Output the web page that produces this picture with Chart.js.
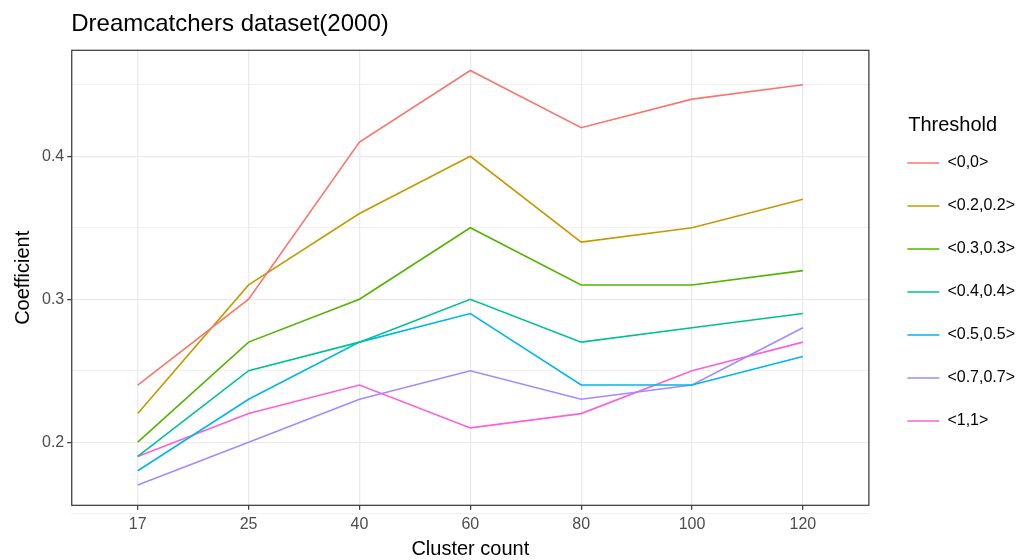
<!DOCTYPE html>
<html>
<head>
<meta charset="utf-8">
<script src="https://cdn.jsdelivr.net/npm/chart.js@4/dist/chart.umd.min.js"></script>
<style>
  html, body { margin: 0; padding: 0; background: #fff; }
  #wrap { width: 1025px; height: 560px; }
</style>
</head>
<body>
<div id="wrap"><canvas id="myChart" width="1025" height="560"></canvas></div>
<script>
// Données
const clusters = ["17", "25", "40", "60", "80", "100", "120"];
const seuils = ["<0,0>", "<0.2,0.2>", "<0.3,0.3>", "<0.4,0.4>", "<0.5,0.5>", "<0.7,0.7>", "<1,1>"];
const couleurs = ["#F8766D", "#C49A00", "#53B400", "#00C094", "#00B6EB", "#A58AFF", "#FB61D7"];

const s00 = [0.24, 0.30, 0.41, 0.46, 0.42, 0.44, 0.45];
const s02 = [0.22, 0.31, 0.36, 0.40, 0.34, 0.35, 0.37];
const s03 = [0.20, 0.27, 0.30, 0.35, 0.31, 0.31, 0.32];
const s04 = [0.19, 0.25, 0.27, 0.30, 0.27, 0.28, 0.29];
const s05 = [0.18, 0.23, 0.27, 0.29, 0.24, 0.24, 0.26];
const s07 = [0.17, 0.20, 0.23, 0.25, 0.23, 0.24, 0.28];
const s11 = [0.19, 0.22, 0.24, 0.21, 0.22, 0.25, 0.27];
const series = [s00, s02, s03, s04, s05, s07, s11];

const yTicks = [0.2, 0.3, 0.4];
const yMinor = [0.15, 0.25, 0.35, 0.45];

const police = "Liberation Sans, Arial, sans-serif";

function isMajor(v) {
    return yTicks.some(function (t) { return Math.abs(t - v) < 1e-6; });
}

// Cadre du panneau (style ggplot)
const cadre = {
    id: "cadre",
    afterDraw: function (chart) {
        const a = chart.chartArea;
        const ctx = chart.ctx;
        ctx.save();
        ctx.strokeStyle = "#333333";
        ctx.lineWidth = 1.2;
        ctx.strokeRect(a.left + 0.5, a.top + 0.5, a.right - a.left - 1, a.bottom - a.top - 1);
        ctx.restore();
    }
};

const ctx = document.getElementById("myChart").getContext("2d");

new Chart(ctx, {
    type: "line",
    data: {
        datasets: seuils.map(function (nom, i) {
            return {
                label: nom,
                data: series[i].map(function (v, j) { return { x: j, y: v }; }),
                borderColor: couleurs[i],
                backgroundColor: couleurs[i],
                borderWidth: 1.6,
                pointRadius: 0,
                tension: 0,
                fill: false
            };
        })
    },
    options: {
        responsive: false,
        animation: false,
        layout: {
            padding: { left: 11, right: 0, top: 4, bottom: 0 }
        },
        plugins: {
            title: {
                display: true,
                text: "Dreamcatchers dataset(2000)",
                align: "start",
                fullSize: false,
                color: "#000",
                font: { family: police, size: 24, weight: "normal" },
                padding: { top: 6, bottom: 11 }
            },
            legend: {
                position: "right",
                align: "center",
                title: {
                    display: true,
                    text: "Threshold",
                    color: "#000",
                    font: { family: police, size: 20, lineHeight: 1 },
                    padding: { top: 7, bottom: -7 }
                },
                labels: {
                    usePointStyle: true,
                    pointStyle: "line",
                    pointStyleWidth: 32,
                    boxHeight: 10,
                    padding: 27,
                    color: "#000",
                    font: { family: police, size: 16 }
                }
            },
            tooltip: { enabled: false }
        },
        scales: {
            x: {
                type: "linear",
                min: -0.6,
                max: 6.6,
                afterBuildTicks: function (axis) {
                    axis.ticks = clusters.map(function (c, i) { return { value: i }; });
                },
                ticks: {
                    autoSkip: false,
                    maxRotation: 0,
                    color: "#4D4D4D",
                    font: { family: police, size: 16 },
                    padding: 5,
                    callback: function (value) { return clusters[value]; }
                },
                grid: {
                    color: "#EBEBEB",
                    lineWidth: 1.3,
                    tickColor: "#333333",
                    tickWidth: 1.2,
                    tickLength: 4
                },
                border: { display: false },
                title: {
                    display: true,
                    text: "Cluster count",
                    color: "#000",
                    font: { family: police, size: 20, lineHeight: 1.05 },
                    padding: { top: 0, bottom: 0 }
                }
            },
            y: {
                min: 0.1555,
                max: 0.4745,
                afterBuildTicks: function (axis) {
                    axis.ticks = yTicks.concat(yMinor).map(function (v) { return { value: v }; });
                },
                ticks: {
                    color: "#4D4D4D",
                    font: { family: police, size: 16 },
                    padding: 3,
                    callback: function (value) { return isMajor(value) ? value.toFixed(1) : ""; }
                },
                grid: {
                    color: "#EBEBEB",
                    lineWidth: function (c) { return isMajor(c.tick.value) ? 1.3 : 0.7; },
                    tickColor: function (c) { return isMajor(c.tick.value) ? "#333333" : "rgba(0,0,0,0)"; },
                    tickWidth: 1.2,
                    tickLength: 4
                },
                border: { display: false },
                title: {
                    display: true,
                    text: "Coefficient",
                    color: "#000",
                    font: { family: police, size: 20 },
                    padding: { top: 0, bottom: 4 }
                }
            },
            // Axe vide à droite : marge entre le panneau et la légende
            marge: {
                type: "linear",
                position: "right",
                display: true,
                grid: { display: false },
                border: { display: false },
                ticks: { display: false },
                afterFit: function (axis) { axis.width = 11; }
            }
        }
    },
    plugins: [cadre]
});
</script>
</body>
</html>
